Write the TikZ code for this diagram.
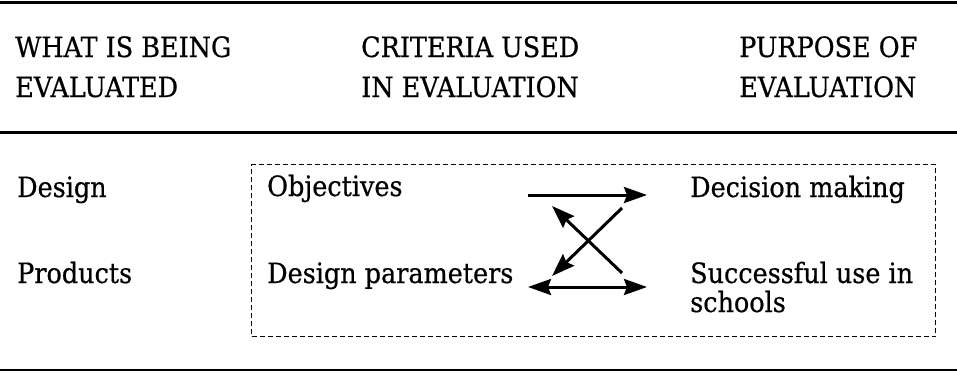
\documentclass[tikz,border=0pt]{standalone}
\usepackage{fontspec}
\setmainfont{DejaVu Serif}[FakeStretch=0.91,FakeBold=0.6]
\usetikzlibrary{arrows.meta}
\begin{document}
\begin{tikzpicture}[x=1pt,y=-1pt,
  txt/.style={inner sep=0pt,anchor=base west,font=\fontsize{28}{30}\selectfont},
  rule/.style={line width=3pt},
  tip/.tip={Stealth[length=23pt,width=16pt,inset=3pt]},
  arr/.style={line width=3pt,-tip},
  darr/.style={line width=3pt,tip-tip},
  frame/.style={line width=1.3pt,dash pattern=on 5pt off 3pt}]
\useasboundingbox (0,0) rectangle (957,372);
\fill[white] (0,0) rectangle (957,372);
% rules
\coordinate (r1a) at (0,2);   \coordinate (r1b) at (957,2);
\coordinate (r2a) at (0,132); \coordinate (r2b) at (957,132);
\coordinate (r3a) at (0,370); \coordinate (r3b) at (957,370);
\draw[rule] (r1a) -- (r1b);
\draw[rule] (r2a) -- (r2b);
\draw[rule,line width=2.5pt] (r3a) -- (r3b);
% headers
\node[txt] (h1a) at (15,57) {WHAT IS BEING};
\node[txt] (h1b) at (15,97) {EVALUATED};
\node[txt] (h2a) at (361,57) {CRITERIA USED};
\node[txt] (h2b) at (361,97) {IN EVALUATION};
\node[txt] (h3a) at (739,57) {PURPOSE OF};
\node[txt] (h3b) at (739,97) {EVALUATION};
% dashed frame
\node[frame,draw,inner sep=0pt,minimum width=684pt,minimum height=172pt,anchor=north west] (box) at (251,164) {};
% body
\node[txt] (design) at (17,197) {Design};
\node[txt] (products) at (17,283) {Products};
\node[txt] (obj) at (267,196) {Objectives};
\node[txt] (par) at (267,283) {Design parameters};
\node[txt] (dec) at (690,197) {Decision making};
\node[txt] (succ) at (690,283) {Successful use in};
\node[txt] (sch) at (690,312) {schools};
% arrow end points
\coordinate (a1s) at (528,195); \coordinate (a1e) at (647,195);
\coordinate (a2s) at (528,287); \coordinate (a2e) at (647,287);
\coordinate (d1s) at (622,208); \coordinate (d1e) at (552,276);
\coordinate (d2s) at (622,273); \coordinate (d2e) at (552,206);
\draw[arr] (a1s) -- (a1e);
\draw[darr] (a2s) -- (a2e);
\draw[arr] (d1s) -- (d1e);
\draw[arr] (d2s) -- (d2e);
\end{tikzpicture}
\end{document}
